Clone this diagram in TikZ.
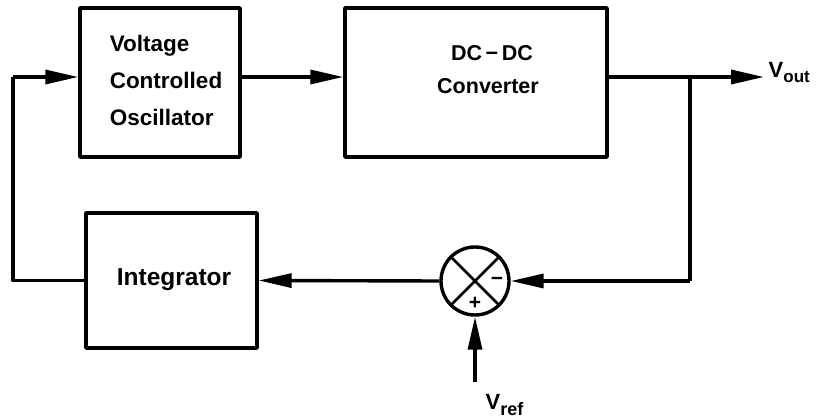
\documentclass[tikz,border=0pt]{standalone}
\usepackage{fontspec}
\setmainfont{Liberation Sans}
\usetikzlibrary{arrows.meta}
\begin{document}
\begin{tikzpicture}[x=1pt,y=-1pt,line width=3.4pt,line join=round,
  blk/.style={draw,rectangle,inner sep=0pt,line width=3.4pt},
  arr/.style={-{Triangle[length=33pt,width=14pt]}},
  lbl/.style={font=\bfseries\fontsize{22.5}{37}\selectfont,inner sep=0pt}]
\useasboundingbox (0,0) rectangle (827,419);
% blocks
\node[blk,minimum width=160pt,minimum height=149pt] (vco) at (160,82.5) {};
\node[blk,minimum width=262pt,minimum height=149pt] (dc) at (476,82.5) {};
\node[blk,minimum width=171pt,minimum height=135pt] (int) at (171.5,280.5) {};
\node[draw,circle,minimum size=68pt,inner sep=0pt,line width=3.4pt] (sum) at (475,281) {};
% texts
\node[lbl,align=left] (vcot) at (166,80) {Voltage\\Controlled\\Oscillator};
\node[lbl,align=center,font=\bfseries\fontsize{21.5}{33}\selectfont] (dct) at (488,70) {\hspace*{8pt}DC\,\char"2212\,DC\\Converter};
\node[lbl,font=\bfseries\fontsize{24.5}{28}\selectfont] (intt) at (174,280) {Integrator};
\node[font=\bfseries\fontsize{21}{21}\selectfont,inner sep=0pt] (minus) at (497,281) {\char"2212};
\node[font=\bfseries\fontsize{21}{21}\selectfont,inner sep=0pt] (plus) at (475,303) {+};
% cross inside summing junction
\draw[line width=2.6pt] (sum.north west) -- (sum.south east);
\draw[line width=2.6pt] (sum.south west) -- (sum.north east);
% coordinates
\coordinate (lt) at (13,77);
\coordinate (lb) at (13,280.5);
\coordinate (br) at (690,77);
\coordinate (bb) at (690,281);
\coordinate (out) at (764,77);
\coordinate (vr) at (475,382);
% connectors
\draw (int.west) -- (lb) -- (lt);
\draw[arr] (lt) -- ([yshift=5.5pt]vco.west);
\draw[arr] ([yshift=5.5pt]vco.east) -- ([yshift=5.5pt]dc.west);
\draw[arr] ([yshift=5.5pt]dc.east) -- (out);
\draw (br) -- (bb);
\draw[arr] (bb) -- (sum.east);
\draw[arr] (sum.west) -- (int.east);
\draw[arr] (vr) -- (sum.south);
% labels
\node[anchor=west,inner sep=0pt,font=\bfseries\fontsize{22}{22}\selectfont] (vout) at ([xshift=3pt,yshift=4pt]out) {V\raisebox{-5pt}{\fontsize{17}{17}\selectfont out}};
\node[anchor=north west,inner sep=0pt,font=\bfseries\fontsize{22}{22}\selectfont] (vref) at (484,393) {V\raisebox{-6pt}{\fontsize{18}{18}\selectfont ref}};
\end{tikzpicture}
\end{document}
